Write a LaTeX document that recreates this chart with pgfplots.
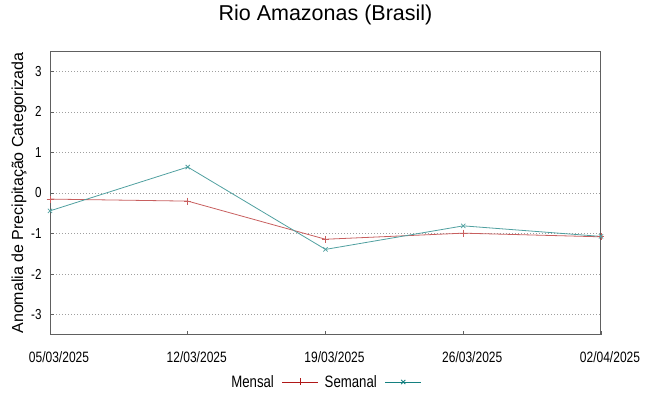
\documentclass[border=0pt]{standalone}
\usepackage{fontspec}
\setmainfont{Liberation Sans}
\newfontfamily\narrowfont[FakeStretch=0.8]{Liberation Sans}
\usepackage{pgfplots}
\pgfplotsset{compat=1.18}
\definecolor{mensal}{RGB}{200,95,95}
\definecolor{semanal}{RGB}{80,160,160}
\definecolor{mensalleg}{RGB}{176,24,24}
\definecolor{semanalleg}{RGB}{20,128,128}
\definecolor{frame}{RGB}{96,96,96}
\begin{document}
\begin{tikzpicture}
\path[use as bounding box] (0pt,0pt) rectangle (649pt,396pt);
\begin{axis}[
  at={(50pt,61pt)}, anchor=south west,
  scale only axis, width=551pt, height=284pt,
  xmin=0, xmax=4, ymin=-3.5, ymax=3.5,
  xtick={0,1,2,3,4},
  xticklabels={05/03/2025,12/03/2025,19/03/2025,26/03/2025,02/04/2025},
  ytick={-3,-2,-1,0,1,2,3},
  /pgf/number format/assume math mode=true,
  xticklabel style={font=\narrowfont\fontsize{15}{17}\selectfont, yshift=-13pt, xshift=9pt},
  yticklabel style={font=\narrowfont\fontsize{14.5}{16}\selectfont, xshift=-5pt},
  ymajorgrids,
  major grid style={dash pattern=on 1pt off 2pt, gray!75, line width=0.6pt},
  axis line style={frame, line width=1pt},
  tick style={frame, line width=0.7pt},
  major tick length=4pt,
  tick align=inside,
  xtick pos=left, ytick pos=left,
  ylabel={Anomalia de Precipitação Categorizada},
  ylabel style={font=\fontsize{16}{18}\selectfont, at={(axis description cs:-0.0563,0.5)}, anchor=center},
  title={Rio Amazonas (Brasil)},
  title style={font=\fontsize{21.5}{24}\selectfont, at={(axis description cs:0.5,1)}, anchor=base, yshift=25pt},
  legend columns=2,
  legend plot pos=right,
  legend style={draw=none, fill=none, at={(axis description cs:0.5,-0.1655)}, anchor=center,
    font=\narrowfont\fontsize{16.5}{18}\selectfont,
    /tikz/every even column/.append style={column sep=4pt},
    /tikz/every odd column/.append style={column sep=6pt}},
  legend image code/.code={
    \draw[#1] (0pt,0pt) -- (36pt,0pt);
    \draw[#1, only marks] plot coordinates {(18pt,0pt)};
  },
]
\addplot[mensal, line width=0.8pt, mark=+, mark size=3.5pt, forget plot] coordinates {
 (0,-0.15) (1,-0.20) (2,-1.14) (3,-0.99) (4,-1.08)};
\addplot[semanal, line width=0.8pt, mark=x, mark size=3pt, forget plot] coordinates {
 (0,-0.44) (1,0.64) (2,-1.39) (3,-0.81) (4,-1.07)};
\addlegendimage{mensalleg, line width=0.8pt, mark=+, mark size=3.5pt}
\addlegendentry{Mensal}
\addlegendimage{semanalleg, line width=0.8pt, mark=x, mark size=3pt}
\addlegendentry{Semanal}
\end{axis}
\end{tikzpicture}
\end{document}
